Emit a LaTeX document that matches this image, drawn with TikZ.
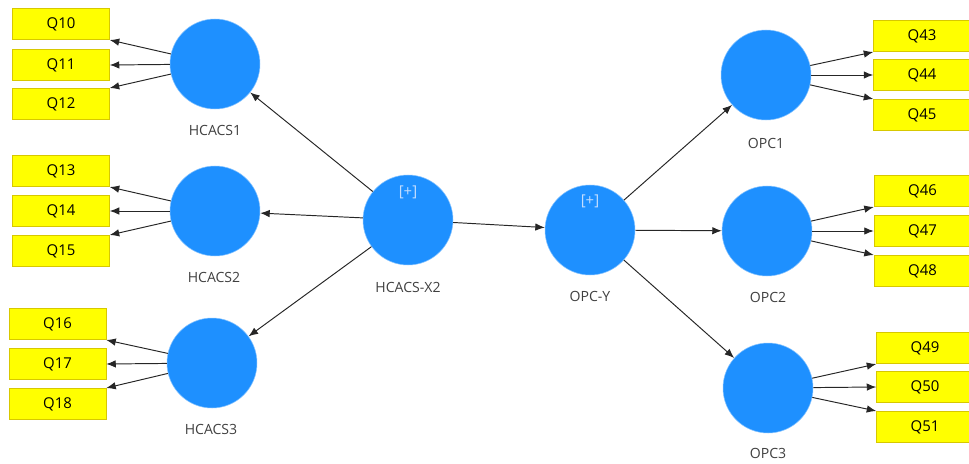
\documentclass[tikz,border=0pt]{standalone}
\usepackage{fontspec}
\setmainfont{Open Sans}
\usetikzlibrary{arrows.meta}
\definecolor{lvblue}{RGB}{30,144,255}
\definecolor{itemyellow}{RGB}{255,255,0}
\definecolor{itemedge}{RGB}{215,200,0}
\definecolor{plusblue}{RGB}{195,222,255}
\tikzset{
  latent/.style={circle,fill=lvblue,draw=lvblue!55!white,line width=0.3pt,minimum size=1.8cm,inner sep=0pt},
  item/.style={rectangle,fill=itemyellow,draw=itemedge,line width=0.3pt,minimum width=1.94cm,minimum height=0.63cm,inner sep=0pt,font=\fontsize{8.5}{10}\selectfont},
  lvlabel/.style={text=black!75,font=\fontsize{8}{10}\selectfont},
  plus/.style={text=plusblue,font=\fontsize{8.5}{10}\selectfont},
  link/.style={-{Latex[length=1.9mm,width=1.5mm]},line width=0.55pt,draw=black!85}
}
\begin{document}
\begin{tikzpicture}[x=0.02cm,y=-0.02cm]
    \useasboundingbox (0,0) rectangle (969,463);

    % latent variables
    \node[latent](hc1) at (215,64){};
    \node[latent](hc2) at (215,211){};
    \node[latent](hc3) at (212,363){};
    \node[latent](x2) at (408,220){};
    \node[latent](opcy) at (590,230){};
    \node[latent](opc1) at (766,75){};
    \node[latent](opc2) at (767,231){};
    \node[latent](opc3) at (768,388){};

    \node[plus](x2plus) at (408,192){[+]};
    \node[plus](opcyplus) at (590,201){[+]};

    \node[lvlabel](hc1lab) at (215,130){HCACS1};
    \node[lvlabel](hc2lab) at (214,277){HCACS2};
    \node[lvlabel](hc3lab) at (211,429){HCACS3};
    \node[lvlabel](x2lab) at (408,287){HCACS-X2};
    \node[lvlabel](opcylab) at (590,296){OPC-Y};
    \node[lvlabel](opc1lab) at (766,143){OPC1};
    \node[lvlabel](opc2lab) at (768,297){OPC2};
    \node[lvlabel](opc3lab) at (768,453){OPC3};

    % indicators
    \node[item](q10) at (61,24){Q10};
    \node[item](q11) at (61,65){Q11};
    \node[item](q12) at (61,104){Q12};
    \node[item](q13) at (61,171){Q13};
    \node[item](q14) at (61,211){Q14};
    \node[item](q15) at (61,251){Q15};
    \node[item](q16) at (57.5,324){Q16};
    \node[item](q17) at (57.5,364){Q17};
    \node[item](q18) at (57.5,404){Q18};
    \node[item](q43) at (922,36){Q43};
    \node[item](q44) at (922,75){Q44};
    \node[item](q45) at (922,115){Q45};
    \node[item](q46) at (922.5,191){Q46};
    \node[item](q47) at (922.5,231){Q47};
    \node[item](q48) at (922.5,271){Q48};
    \node[item](q49) at (925,348){Q49};
    \node[item](q50) at (925,387){Q50};
    \node[item](q51) at (925,427){Q51};

    % structural paths
    \draw[link](x2)--(hc1);
    \draw[link](x2)--(hc2);
    \draw[link](x2)--(hc3);
    \draw[link](x2)--(opcy);
    \draw[link](opcy)--(opc1);
    \draw[link](opcy)--(opc2);
    \draw[link](opcy)--(opc3);

    % loadings
    \draw[link](hc1)--(q10.south east);
    \draw[link](hc1)--(q11.east);
    \draw[link](hc1)--(q12.north east);
    \draw[link](hc2)--(q13.south east);
    \draw[link](hc2)--(q14.east);
    \draw[link](hc2)--(q15.north east);
    \draw[link](hc3)--(q16.south east);
    \draw[link](hc3)--(q17.east);
    \draw[link](hc3)--(q18.north east);
    \draw[link](opc1)--(q43.south west);
    \draw[link](opc1)--(q44.west);
    \draw[link](opc1)--(q45.north west);
    \draw[link](opc2)--(q46.south west);
    \draw[link](opc2)--(q47.west);
    \draw[link](opc2)--(q48.north west);
    \draw[link](opc3)--(q49.south west);
    \draw[link](opc3)--(q50.west);
    \draw[link](opc3)--(q51.north west);
\end{tikzpicture}
\end{document}
